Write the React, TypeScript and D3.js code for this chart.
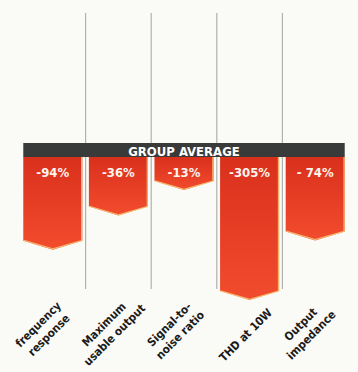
import React from "react";
import * as d3 from "d3";

const categories: string[][] = [
  ["frequency", "response"],
  ["Maximum", "usable output"],
  ["Signal-to-", "noise ratio"],
  ["THD at 10W"],
  ["Output", "impedance"],
];
const values: number[] = [-94, -36, -13, -305, -74];
const valueLabels: string[] = ["-94%", "-36%", "-13%", "-305%", "- 74%"];
const bannerLabel = "GROUP AVERAGE";

const W = 358;
const H = 372;
const FONT = "'DejaVu Sans Condensed', 'DejaVu Sans', sans-serif";

export default function App() {
  const x = d3
    .scaleBand<number>()
    .domain(values.map((_, i) => i))
    .range([20, 348])
    .paddingInner(0.1)
    .paddingOuter(0.05);
  const bw = x.bandwidth();
  const top = 157;
  const len = d3
    .scaleSymlog()
    .constant(20)
    .domain([0, 305])
    .range([0, 134]);
  const tip = 9;
  const bannerTop = 143;
  const gridTop = 13;
  const gridBottom = 289;
  const lineGap = 15;

  const gridXs = values.slice(1).map((_, i) => (x(i)! + bw + x(i + 1)!) / 2);

  return (
    <svg
      width={W}
      height={H}
      style={{ position: "absolute", left: 0, top: 0 }}
      xmlns="http://www.w3.org/2000/svg"
    >
      <defs>
        <linearGradient id="barGrad" x1="0" y1="0" x2="0" y2="1">
          <stop offset="0%" stopColor="#d9301c" />
          <stop offset="100%" stopColor="#f24c2e" />
        </linearGradient>
      </defs>
      <rect x={0} y={0} width={W} height={H} fill="#fafaf7" />
      {gridXs.map((gx, i) => (
        <line
          key={i}
          x1={gx}
          x2={gx}
          y1={gridTop}
          y2={gridBottom}
          stroke="#b0b0ae"
          strokeWidth={1.2}
        />
      ))}
      {values.map((v, i) => {
        const x0 = x(i)!;
        const x1 = x0 + bw;
        const cx = x0 + bw / 2;
        const yb = top + len(Math.abs(v));
        const d = `M${x0},${top}L${x1},${top}L${x1},${yb}L${cx},${yb + tip}L${x0},${yb}Z`;
        const edge = `M${x1 - 0.7},${top}L${x1 - 0.7},${yb}L${cx},${yb + tip - 0.7}L${x0 + 0.5},${yb - 0.2}`;
        return (
          <g key={i}>
            <path d={d} fill="url(#barGrad)" />
            <path
              d={edge}
              fill="none"
              stroke="#f6c878"
              strokeWidth={1.2}
              strokeOpacity={0.85}
            />
            <text
              x={cx}
              y={177}
              textAnchor="middle"
              fill="#fff4ee"
              fontFamily={FONT}
              fontWeight="bold"
              fontSize={13}
            >
              {valueLabels[i]}
            </text>
          </g>
        );
      })}
      <rect
        x={x(0)!}
        y={bannerTop}
        width={x(values.length - 1)! + bw - x(0)!}
        height={top - bannerTop}
        fill="#383b3a"
      />
      <text
        x={(x(0)! + x(values.length - 1)! + bw) / 2}
        y={155.5}
        textAnchor="middle"
        fill="#ffffff"
        fontFamily={FONT}
        fontWeight="bold"
        fontSize={13}
      >
        {bannerLabel}
      </text>
      {categories.map((lines, i) => {
        const cx = x(i)! + bw / 2;
        const n = lines.length;
        const ax = cx - 4;
        const ay = 335;
        return (
          <g key={i} transform={`translate(${ax},${ay}) rotate(-45)`}>
            {lines.map((t, j) => (
              <text
                key={j}
                x={0}
                y={(j - (n - 1)) * lineGap + 4}
                textAnchor="middle"
                fill="#1a1a1a"
                fontFamily={FONT}
                fontWeight="bold"
                fontSize={11.5}
              >
                {t}
              </text>
            ))}
          </g>
        );
      })}
    </svg>
  );
}
